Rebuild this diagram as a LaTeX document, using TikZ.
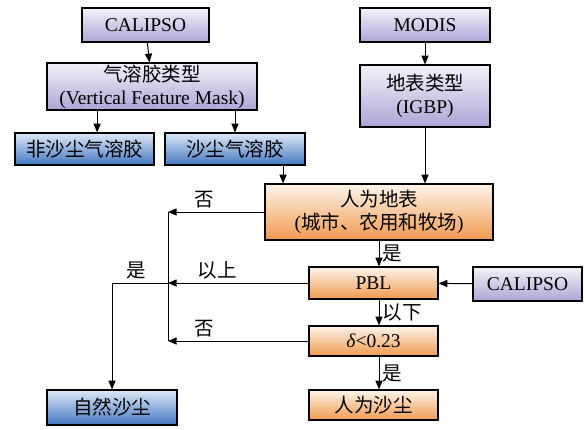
\documentclass[tikz,border=0pt]{standalone}
\usepackage{fontspec}
\setmainfont{Liberation Serif}
\newfontfamily\cjk{Noto Sans CJK SC}
\usetikzlibrary{arrows,calc}

\definecolor{purpT}{HTML}{F4F2FA}
\definecolor{purpB}{HTML}{ADA5D6}
\definecolor{blueT}{HTML}{DCE8F6}
\definecolor{blueB}{HTML}{4378C0}
\definecolor{orgT}{HTML}{FEF4EA}
\definecolor{orgB}{HTML}{F09A50}

\begin{document}
\begin{tikzpicture}[>=triangle 45,x=1pt,y=-1pt]
	\tikzstyle{every node} = [font=\fontsize{19.5}{23}\selectfont];
	\tikzstyle{box} = [draw=black,line width=1.3pt,inner sep=0pt,align=center];
	\tikzstyle{srcbox} = [box,top color=purpT,bottom color=purpB];
	\tikzstyle{clsbox} = [box,top color=blueT,bottom color=blueB];
	\tikzstyle{decbox} = [box,top color=orgT,bottom color=orgB];
	\tikzstyle{arr} = [->,line width=1pt];
	\useasboundingbox (0,0) rectangle (586,429);
	% data sources and aerosol typing
	\node[srcbox,minimum width=127,minimum height=34] (cal1) at (145.5,25) {CALIPSO};
	\node[srcbox,minimum width=210,minimum height=47] (vfm) at (152,86.5) {{\cjk 气溶胶类型}\\(Vertical Feature Mask)};
	\node[clsbox,minimum width=139,minimum height=32] (nondust) at (84.5,149) {\cjk 非沙尘气溶胶};
	\node[clsbox,minimum width=140,minimum height=32] (dust) at (235,149) {\cjk 沙尘气溶胶};
	\node[srcbox,minimum width=130,minimum height=34] (modis) at (425,25) {MODIS};
	\node[srcbox,minimum width=130,minimum height=62] (igbp) at (425,96) {{\cjk 地表类型}\\(IGBP)};
	% decisions
	\node[decbox,minimum width=228,minimum height=56] (anthro) at (379,212) {{\cjk 人为地表}\\({\cjk 城市、农用和牧场})};
	\node[decbox,minimum width=129,minimum height=32] (pbl) at (373.5,283) {PBL};
	\node[srcbox,minimum width=109,minimum height=34] (cal2) at (527.5,284) {CALIPSO};
	\node[decbox,minimum width=129,minimum height=30] (delta) at (373.5,341) {\textit{δ}<0.23};
	\node[decbox,minimum width=129,minimum height=30] (anthdust) at (373.5,405) {\cjk 人为沙尘};
	\node[clsbox,minimum width=130,minimum height=35] (natdust) at (112,407.5) {\cjk 自然沙尘};
	\coordinate (p1) at ($(nondust.north west)!0.59!(nondust.north east)$);
	\coordinate (p2) at ($(dust.south west)!0.84!(dust.south east)$);
	\coordinate (bus) at (168,283);
	% connectors
	\draw[arr] (cal1) -- (vfm);
	\draw[arr] (vfm.south -| p1) -- (p1);
	\draw[arr] (vfm.south -| dust.north) -- (dust.north);
	\draw[arr] (p2) -- (p2 |- anthro.north);
	\draw[arr] (modis) -- (igbp);
	\draw[arr] (igbp) -- (igbp |- anthro.north);
	\draw[arr] (anthro.south) -- (anthro.south |- pbl.north) node[midway,right] {\cjk 是};
	\draw[arr] (anthro.south |- pbl.south) -- (anthro.south |- delta.north) node[midway,right] {\cjk 以下};
	\draw[arr] (anthro.south |- delta.south) -- (anthro.south |- anthdust.north) node[midway,right] {\cjk 是};
	\draw[arr] (cal2) -- (pbl);
	\draw[arr] (anthro.west) -- (anthro.west -| bus) node[above,pos=0.62] {\cjk 否};
	\draw[arr] (pbl.west) -- (pbl.west -| bus) node[above,pos=0.65] {\cjk 以上};
	\draw[arr] (delta.west) -- (delta.west -| bus) node[above,pos=0.74] {\cjk 否};
	\draw[line width=1pt] (anthro.west -| bus) -- (delta.west -| bus);
	\draw[arr] (bus) -| (natdust.north) node[above,pos=0.28] {\cjk 是};
\end{tikzpicture}
\end{document}
